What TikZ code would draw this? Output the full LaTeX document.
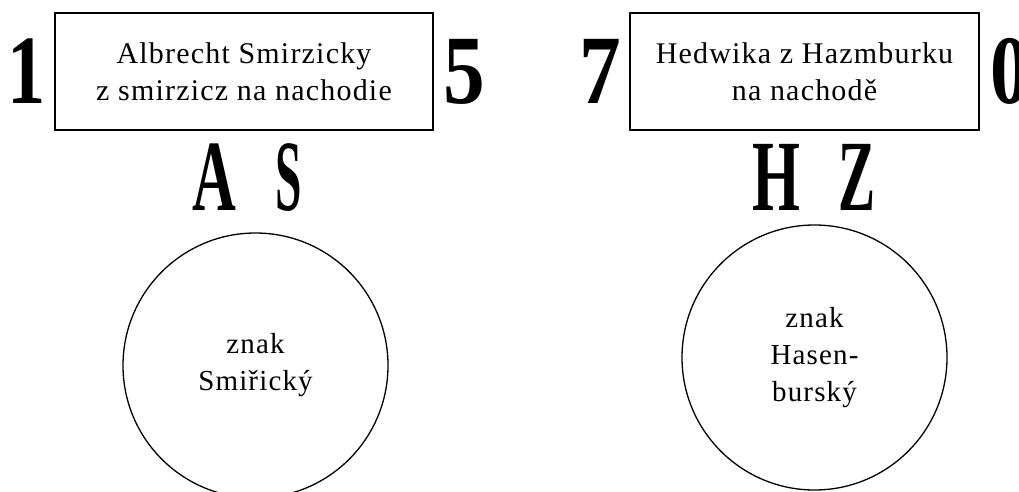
\documentclass[tikz,border=0pt]{standalone}
\usepackage{fontspec}
\usepackage{graphicx}
\setmainfont{Liberation Serif}
\newfontfamily\spacedserif[LetterSpace=4]{Liberation Serif}
\tikzset{
  namebox/.style={draw, line width=1.3pt, rectangle, align=center, inner sep=0pt,
    minimum height=117pt, font=\spacedserif\fontsize{30}{37}\selectfont},
  crest/.style={draw, line width=1.3pt, circle, align=center, inner sep=0pt,
    minimum size=265pt, font=\spacedserif\fontsize{29}{37}\selectfont},
  bigdigit/.style={anchor=base, inner sep=0pt, font=\fontsize{98}{98}\selectfont\bfseries},
  bigletter/.style={anchor=base, inner sep=0pt, font=\fontsize{101}{101}\selectfont\bfseries}
}
\begin{document}
\begin{tikzpicture}[x=1pt, y=-1pt]
\useasboundingbox (0,0) rectangle (1019,492);
% boxes
\node[namebox, minimum width=378pt] (b1) at (244,71.5) {Albrecht Smirzicky\\z smirzicz na nachodie};
\node[namebox, minimum width=349pt] (b2) at (804.5,71.5) {Hedwika z Hazmburku\\na nachodě};
% digits
\node[bigdigit] (d1) at (27,103) {\scalebox{0.78}[1]{1}};
\node[bigdigit] (d5) at (464,103) {\scalebox{0.85}[1]{5}};
\node[bigdigit] (d7) at (600,103) {\scalebox{0.85}[1]{7}};
\node[bigdigit] (d0) at (1010,103) {\scalebox{0.8}[1]{0}};
% initials
\node[bigletter] (lA) at (214,210) {\scalebox{0.6}[1]{A}};
\node[bigletter] (lS) at (289,210) {\scalebox{0.47}[1]{S}};
\node[bigletter] (lH) at (776,210) {\scalebox{0.61}[1]{H}};
\node[bigletter] (lZ) at (857,210) {\scalebox{0.55}[1]{Z}};
% crests
\node[crest] (c1) at (255.5,365.5) {znak\\Smiřický};
\node[crest] (c2) at (814.5,357.5) {znak\\Hasen-\\burský};
\end{tikzpicture}
\end{document}
